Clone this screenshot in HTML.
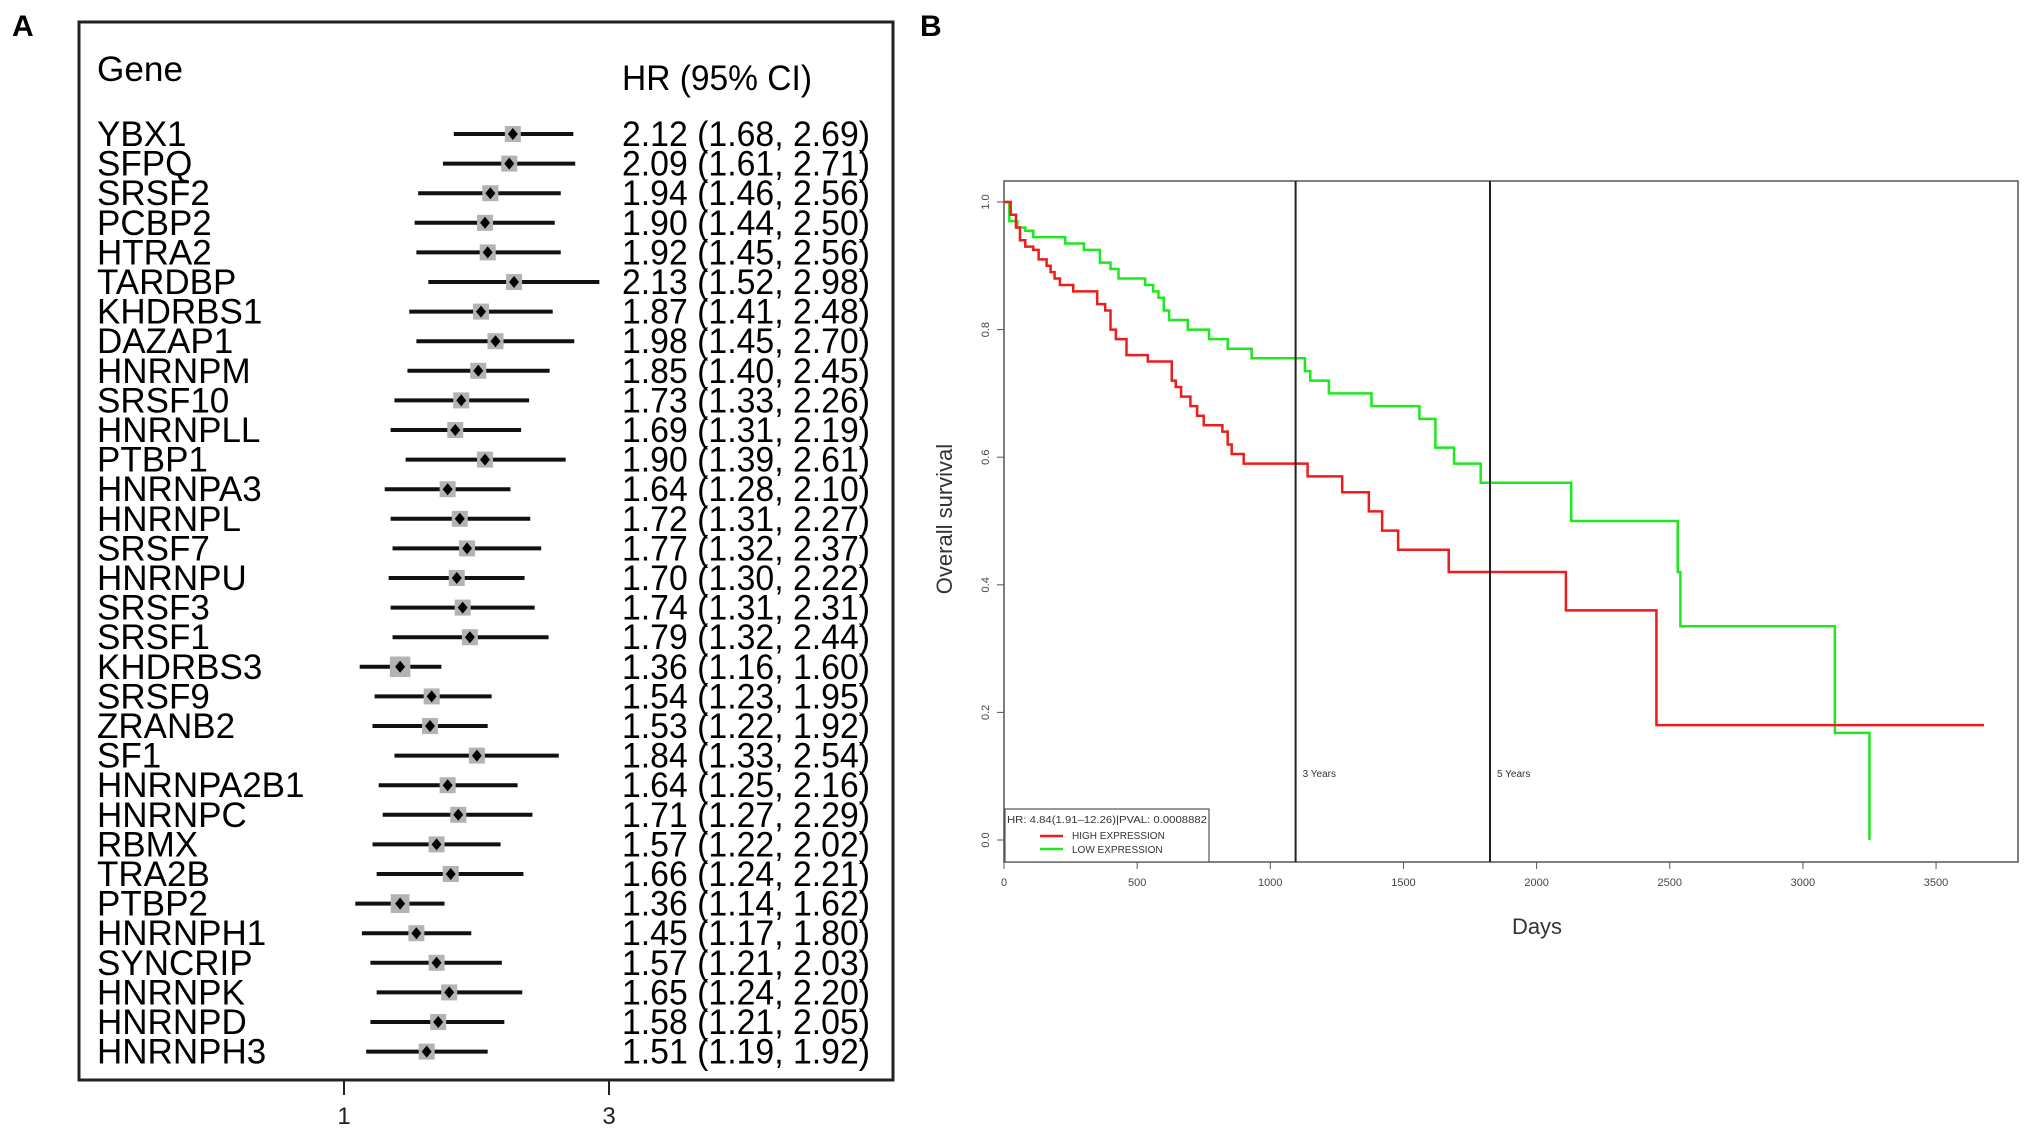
<!DOCTYPE html>
<html><head><meta charset="utf-8"><style>
html,body{margin:0;padding:0;background:#fff;}
svg{display:block;font-family:"Liberation Sans",Arial,sans-serif;}
</style></head><body>
<svg id="fig" width="2031" height="1133" viewBox="0 0 2031 1133" xmlns="http://www.w3.org/2000/svg">
<rect x="0" y="0" width="2031" height="1133" fill="#fff"/>
<text x="12" y="36" font-size="30" font-weight="bold">A</text>
<text x="920" y="36" font-size="30" font-weight="bold">B</text>
<g id="forest">
<rect x="79" y="22" width="814" height="1058" fill="none" stroke="#222" stroke-width="3"/>
<text x="97" y="81" font-size="35" textLength="86" lengthAdjust="spacingAndGlyphs">Gene</text>
<text x="622" y="90" font-size="35" textLength="190" lengthAdjust="spacingAndGlyphs">HR (95% CI)</text>
</g>
<g id="km">
<rect x="1004" y="181" width="1014" height="681" fill="none" stroke="#555" stroke-width="1.5"/>
<text transform="translate(952,519) rotate(-90)" text-anchor="middle" font-size="22" fill="#333">Overall survival</text>
<text x="1537" y="934" text-anchor="middle" font-size="22" fill="#333">Days</text>
</g>
</svg>
<script>
const NS='http://www.w3.org/2000/svg';
const svg=document.getElementById('fig');
function mk(tag,attrs,parent,txt){const e=document.createElementNS(NS,tag);for(const k in attrs)e.setAttribute(k,attrs[k]);if(txt!==undefined)e.textContent=txt;(parent||svg).appendChild(e);return e;}

// ---- Forest plot data ----
const genes=["YBX1","SFPQ","SRSF2","PCBP2","HTRA2","TARDBP","KHDRBS1","DAZAP1","HNRNPM","SRSF10","HNRNPLL","PTBP1","HNRNPA3","HNRNPL","SRSF7","HNRNPU","SRSF3","SRSF1","KHDRBS3","SRSF9","ZRANB2","SF1","HNRNPA2B1","HNRNPC","RBMX","TRA2B","PTBP2","HNRNPH1","SYNCRIP","HNRNPK","HNRNPD","HNRNPH3"];
const hr=[2.12,2.09,1.94,1.90,1.92,2.13,1.87,1.98,1.85,1.73,1.69,1.90,1.64,1.72,1.77,1.70,1.74,1.79,1.36,1.54,1.53,1.84,1.64,1.71,1.57,1.66,1.36,1.45,1.57,1.65,1.58,1.51];
const lo=[1.68,1.61,1.46,1.44,1.45,1.52,1.41,1.45,1.40,1.33,1.31,1.39,1.28,1.31,1.32,1.30,1.31,1.32,1.16,1.23,1.22,1.33,1.25,1.27,1.22,1.24,1.14,1.17,1.21,1.24,1.21,1.19];
const hi=[2.69,2.71,2.56,2.50,2.56,2.98,2.48,2.70,2.45,2.26,2.19,2.61,2.10,2.27,2.37,2.22,2.31,2.44,1.60,1.95,1.92,2.54,2.16,2.29,2.02,2.21,1.62,1.80,2.03,2.20,2.05,1.92];
const forestTicks=[1,3];
const forestTickLabels=["1","3"];

const fx=v=>322+254*Math.log(v);
const fy=i=>134+i*29.6;
const fg=document.getElementById('forest');
const fmt=v=>v.toFixed(2);
genes.forEach((g,i)=>{
  const y=fy(i);
  const ci=mk('line',{x1:fx(lo[i]),x2:fx(hi[i]),y1:y,y2:y,stroke:'#111','stroke-width':4},fg);
  
  
  const w=(hi[i]-lo[i])/hr[i];
  const s=Math.max(16,Math.min(30,26/(w/0.3)*0.85));
  const sq=mk('rect',{x:fx(hr[i])-s/2,y:y-s/2,width:s,height:s,fill:'#b3b3b3'},fg);
  
  
  const cx=fx(hr[i]);
  const d=mk('polygon',{points:`${cx},${y-6} ${cx+5},${y} ${cx},${y+6} ${cx-5},${y}`,fill:'#000'},fg);
  
  
  const t=mk('text',{x:97,y:y+12,'font-size':35},fg,g);
  
  
  const tl=t.getComputedTextLength();
  t.setAttribute('textLength',tl*1.0);t.setAttribute('lengthAdjust','spacingAndGlyphs');
  const h=mk('text',{x:622,y:y+12,'font-size':35,textLength:248,lengthAdjust:'spacingAndGlyphs'},fg,`${fmt(hr[i])} (${fmt(lo[i])}, ${fmt(hi[i])})`);
  
  
});
// forest axis ticks (drawn at observed axis positions)
const tickPos=v=>344+(v-1)/2*265;
forestTicks.forEach((v,i)=>{
  const tk=mk('line',{x1:tickPos(v),x2:tickPos(v),y1:1080,y2:1095,stroke:'#222','stroke-width':2},fg);
  
  
  const tt=mk('text',{x:tickPos(v),y:1124,'text-anchor':'middle','font-size':24,fill:'#222'},fg,forestTickLabels[i]);
  
  
});

// ---- KM data ----
const highDays=[0,25,45,60,80,110,130,160,175,190,210,260,350,380,400,420,460,540,630,645,665,700,725,750,820,840,855,900,1140,1270,1370,1420,1480,1670,2110,2450,3680];
const highSurv=[1.0,0.98,0.96,0.94,0.93,0.925,0.91,0.90,0.89,0.88,0.87,0.86,0.84,0.83,0.80,0.785,0.76,0.75,0.72,0.71,0.695,0.68,0.665,0.65,0.64,0.62,0.605,0.59,0.57,0.545,0.515,0.485,0.455,0.42,0.36,0.18,0.18];
const lowDays=[0,20,50,80,110,230,300,360,400,430,530,560,580,600,620,690,770,840,930,1130,1150,1220,1380,1560,1620,1690,1790,2130,2530,2540,3120,3250];
const lowSurv=[1.0,0.97,0.96,0.955,0.945,0.935,0.925,0.905,0.895,0.88,0.87,0.86,0.85,0.83,0.815,0.80,0.785,0.77,0.755,0.735,0.72,0.70,0.68,0.66,0.615,0.59,0.56,0.50,0.42,0.335,0.168,0.0];
const xTicks=[0,500,1000,1500,2000,2500,3000,3500];
const yTicks=[0,0.2,0.4,0.6,0.8,1.0];
const markers=[1095,1825];
const markerLabels=["3 Years","5 Years"];

const kx=d=>1004+d*0.2663;
const ky=s=>840-s*638;
const kg=document.getElementById('km');
function stepPath(ds,ss){let p=`M${kx(ds[0])},${ky(ss[0])}`;for(let i=1;i<ds.length;i++){p+=` H${kx(ds[i])} V${ky(ss[i])}`;}return p;}
xTicks.forEach(v=>{
  const l=mk('line',{x1:kx(v),x2:kx(v),y1:862,y2:869,stroke:'#555'},kg);
  
  
  const t=mk('text',{x:kx(v),y:886,'text-anchor':'middle','font-size':11,fill:'#444'},kg,String(v));
  
  
});
yTicks.forEach(v=>{
  const l=mk('line',{x1:997,x2:1004,y1:ky(v),y2:ky(v),stroke:'#555'},kg);
  
  
  const t=mk('text',{transform:`translate(989,${ky(v)}) rotate(-90)`,'text-anchor':'middle','font-size':11,fill:'#444'},kg,v.toFixed(1));
  
  
});
const lowLine=mk('path',{d:stepPath(lowDays,lowSurv),fill:'none',stroke:'#1ee81e','stroke-width':2.5},kg);


const highLine=mk('path',{d:stepPath(highDays,highSurv),fill:'none',stroke:'#ee1c1c','stroke-width':2.5},kg);


markers.forEach((d,i)=>{
  const l=mk('line',{x1:kx(d),x2:kx(d),y1:181,y2:862,stroke:'#222','stroke-width':2},kg);
  
  
  const t=mk('text',{x:kx(d)+7,y:777,'font-size':10,fill:'#333'},kg,markerLabels[i]);
  
  
});
// legend
const lg=mk('g',{},kg);


mk('rect',{x:1005,y:809,width:204,height:53,fill:'#fff',stroke:'#555','stroke-width':1.2},lg);
mk('text',{x:1007,y:823,'font-size':10,fill:'#333',textLength:200,lengthAdjust:'spacingAndGlyphs'},lg,'HR: 4.84(1.91\u201312.26)|PVAL: 0.0008882');
const le1=mk('line',{x1:1040,x2:1063,y1:836,y2:836,stroke:'#ee1c1c','stroke-width':2.5},lg);


mk('text',{x:1072,y:839,'font-size':10,fill:'#333'},lg,'HIGH EXPRESSION');
const le2=mk('line',{x1:1040,x2:1063,y1:849,y2:849,stroke:'#1ee81e','stroke-width':2.5},lg);


mk('text',{x:1072,y:853,'font-size':10,fill:'#333'},lg,'LOW EXPRESSION');
</script>
</body></html>
